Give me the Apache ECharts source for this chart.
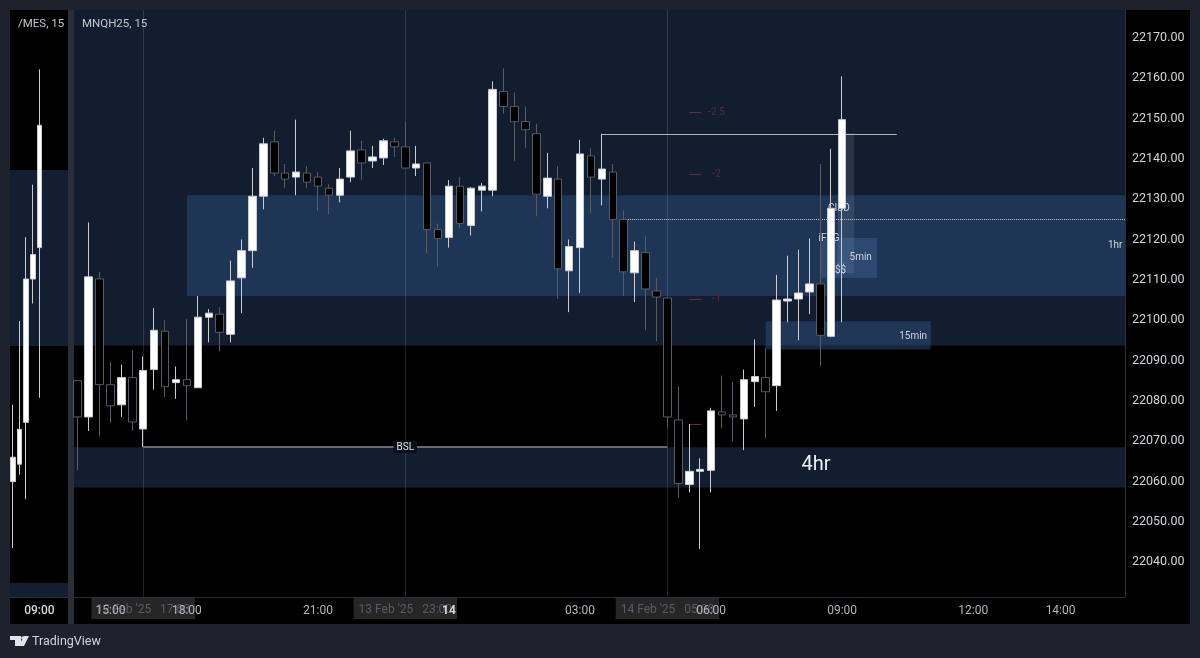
<!DOCTYPE html>
<html>
<head>
<meta charset="utf-8">
<style>
  html, body { margin: 0; padding: 0; background: #1e222d; }
  #chart { width: 1200px; height: 658px; }
</style>
</head>
<body>
<div id="chart"></div>
<script src="https://cdn.jsdelivr.net/npm/echarts@6/dist/echarts.min.js"></script>
<script>
// MES pane, rows are [open, close, low, high]
const mesCandles = [
  [6108.25, 6110, 6103.5, 6113.75],
  [6109.5, 6112, 6108.75, 6119.75],
  [6112.5, 6122.75, 6107, 6125.75],
  [6122.75, 6124.5, 6121, 6129.5],
  [6125, 6133.75, 6114.25, 6137.75],
];
const mesZones = [[6117.96, 6130.55], [6100, 6101]];
const mesTicks = [4];
const mesTickLabels = ["09:00"];

// MNQ pane, one row per 15 min bar, [open, close, low, high]
const mnqCandles = [
  [22084.5, 22075.5, 22062.25, 22084.5],
  [22075.5, 22110.25, 22072, 22123.75],
  [22109.75, 22083.5, 22070.75, 22111.5],
  [22083.5, 22078.25, 22074, 22089.25],
  [22078.5, 22085.25, 22075.5, 22088.5],
  [22085.25, 22074.25, 22072, 22092],
  [22072.5, 22087, 22068, 22090.5],
  [22087.25, 22097, 22082.25, 22102.5],
  [22096.75, 22083, 22080.5, 22099.5],
  [22084, 22084.75, 22080, 22088],
  [22084.75, 22083.25, 22074.75, 22099.75],
  [22082.75, 22100.25, 22082.75, 22105.5],
  [22100.25, 22101.25, 22094, 22102.25],
  [22101, 22096.5, 22091.75, 22102.75],
  [22096, 22109.25, 22094, 22114.25],
  [22110, 22116.75, 22101.25, 22119.5],
  [22116.75, 22130.25, 22112.5, 22137.25],
  [22130.25, 22143.25, 22127, 22144.75],
  [22143.75, 22136, 22135.25, 22146.5],
  [22136, 22134.5, 22132.25, 22138.25],
  [22135, 22136.25, 22130.5, 22149.25],
  [22136, 22133.75, 22132.25, 22137.75],
  [22135, 22132.75, 22126.75, 22136.25],
  [22132.25, 22130.5, 22125.75, 22133.25],
  [22130.5, 22134.5, 22128.75, 22137.25],
  [22135, 22141.5, 22133.75, 22146.5],
  [22141.75, 22138.5, 22134.25, 22144],
  [22139, 22140, 22137.25, 22142.75],
  [22139.75, 22144, 22138, 22144.5],
  [22143.75, 22142.5, 22140, 22144.75],
  [22142.5, 22137.25, 22137.25, 22148.75],
  [22137.25, 22138.25, 22135.25, 22142.75],
  [22138.5, 22122, 22116, 22138.5],
  [22122, 22119.75, 22112.75, 22123.5],
  [22120, 22132.75, 22117.5, 22134.25],
  [22132.75, 22123.5, 22122.25, 22135],
  [22123, 22132.25, 22120.5, 22132.5],
  [22131.75, 22132.75, 22126.5, 22133.5],
  [22131.75, 22156.75, 22130.25, 22158.75],
  [22156.25, 22152.5, 22150.75, 22162],
  [22152.5, 22148.75, 22139, 22156],
  [22148.75, 22146.75, 22142.25, 22152.5],
  [22145.75, 22130.75, 22125.25, 22148.25],
  [22130.25, 22134.75, 22127.25, 22141],
  [22134.5, 22112.25, 22104.75, 22137.75],
  [22111.75, 22117.75, 22101.5, 22119.5],
  [22117.5, 22140.75, 22106.25, 22144.25],
  [22140.25, 22135, 22126, 22142.25],
  [22134.5, 22137, 22128, 22145.75],
  [22136.25, 22124.5, 22115, 22138.25],
  [22124.5, 22111.5, 22105.5, 22126.75],
  [22111.25, 22116.75, 22104, 22119],
  [22116.25, 22107.25, 22097, 22120.25],
  [22106.75, 22105.25, 22094.25, 22110],
  [22105, 22075.5, 22072.75, 22105],
  [22074.75, 22059, 22055.5, 22083],
  [22058.75, 22062, 22056.75, 22073.75],
  [22062, 22062.5, 22042.75, 22065.25],
  [22062.25, 22077, 22056.75, 22077.75],
  [22076.75, 22076, 22072.75, 22085.75],
  [22076, 22075.5, 22069.5, 22084.25],
  [22075, 22084.75, 22067.25, 22087.25],
  [22084.25, 22085.5, 22078, 22094.75],
  [22085.25, 22081.75, 22070.25, 22092.5],
  [22083.25, 22104.5, 22077, 22110.75],
  [22104.25, 22104.75, 22099, 22115.5],
  [22104.75, 22106.25, 22094.5, 22117],
  [22106.5, 22108.5, 22101, 22119.75],
  [22108.5, 22095.75, 22088, 22138.25],
  [22095.5, 22127.25, 22095.25, 22142],
  [22127.25, 22149.25, 22099, 22160],
];

const priceTicks = [22040, 22050, 22060, 22070, 22080, 22090, 22100, 22110, 22120, 22130, 22140, 22150, 22160, 22170];
const timeTicks = [3, 10, 22, 34, 46, 58, 70, 82, 90];
const timeTickLabels = ["15:00", "18:00", "21:00", "14", "03:00", "06:00", "09:00", "12:00", "14:00"];
const sessionBars = [6, 30, 54];
const sessionLabels = ["12 Feb '25   17:00", "13 Feb '25   23:00", "14 Feb '25   05:00"];

// zones: [bar from, bar to, price low, price high]
const baseZone = [-0.34, 95.9, 22093.25, 22176.45];
const zone4hr = [-0.34, 95.9, 22058, 22068];
const zone1hr = [10, 95.9, 22105.5, 22130.5];
const zone15min = [63, 78.1, 22092.25, 22099.25];
const zone5min = [68, 73.2, 22110, 22119.9];
const zoneTall = [69.6, 71.1, 22111.2, 22145.9];

// levels: [bar from, bar to, price]
const highLevel = [48, 75, 22145.75];
const prevLevel = [-0.34, 6, 22094];
const bslLevel = [6, 54, 22068];
const midLevel = [50.4, 95.9, 22124.5];
const fibLevels = [22151, 22135.7, 22104.7, 22073.7];
const fibLabels = ["-2.5", "-2", "-1", ""];

// text notes: [bar, price, text]
const notesUnder = [[69.7, 22127.25, "CISD"], [68.8, 22119.75, "iFVG"], [69.6, 22111.75, "$$$"]];
const notesSmall = [[71.7, 22115, "5min"], [76.5, 22095.5, "15min"], [95, 22118, "1hr"]];
const notesBig = [[67.6, 22063.6, "4hr"]];
const notesBsl = [[30, 22068, "BSL"]];

const xMin = -0.339;
const xMax = 95.9;
const yMin = 22030.83;
const yMax = 22176.45;
const font = "Roboto";

function zoneArea(z, color) {
  return [
    { coord: [z[0], z[3]], itemStyle: { color: color } },
    { coord: [z[1], z[2]] },
  ];
}

function level(l, color, width, type) {
  return [
    { coord: [l[0], l[2]], lineStyle: { color: color, width: width, type: type || "solid" } },
    { coord: [l[1], l[2]] },
  ];
}

function noteSeries(rows, z, color, size) {
  return {
    type: "scatter",
    xAxisIndex: 1,
    yAxisIndex: 1,
    z: z,
    silent: true,
    symbolSize: 1,
    itemStyle: { color: "transparent", opacity: 1 },
    label: {
      show: true,
      position: "inside",
      color: color,
      fontFamily: font,
      fontSize: size,
      formatter: (p) => p.value[2],
    },
    data: rows,
  };
}

const fibSegments = fibLevels.map((v) => level([56, 57.1, v], "#5d2c40", 1));
const fibNotes = fibLevels.map((v, i) => [58.5, v, fibLabels[i]]);

const options = {
  animation: false,
  backgroundColor: "#1e222d",
  graphic: [
    { type: "rect", z: -5, shape: { x: 10, y: 10, width: 58, height: 614 }, style: { fill: "#000" } },
    { type: "rect", z: -5, shape: { x: 68, y: 10, width: 6, height: 614 }, style: { fill: "#2a2e39" } },
    { type: "rect", z: -5, shape: { x: 74, y: 10, width: 1116, height: 614 }, style: { fill: "#000" } },
    { type: "text", z: 30, x: 18, y: 18, style: { text: "/MES, 15", fill: "#c3c6ce", font: "11.5px Roboto" } },
    { type: "text", z: 30, x: 82, y: 18, style: { text: "MNQH25, 15", fill: "#c3c6ce", font: "11.5px Roboto" } },
    // TradingView logo
    { type: "polygon", z: 30, shape: { points: [[10, 636], [21, 636], [21, 646], [15, 646], [15, 640], [10, 640]] }, style: { fill: "#e0e3eb" } },
    { type: "circle", z: 30, shape: { cx: 23, cy: 638, r: 1.8 }, style: { fill: "#e0e3eb" } },
    { type: "polygon", z: 30, shape: { points: [[24, 636], [29, 636], [24, 646], [18.5, 646]] }, style: { fill: "#e0e3eb" } },
    { type: "text", z: 30, x: 32, y: 635, style: { text: "TradingView", fill: "#d1d4dc", font: "12.5px Roboto" } },
  ],
  grid: [
    { left: 10, top: 10, width: 58, height: 587, outerBoundsMode: "none" },
    { left: 74, top: 10, width: 1051, height: 587, outerBoundsMode: "none" },
  ],
  xAxis: [
    {
      type: "value",
      gridIndex: 0,
      min: -0.4545,
      max: 8.333,
      splitLine: { show: false },
      axisTick: { show: false },
      axisLine: { show: true, onZero: false, lineStyle: { color: "#2a2e39" } },
      axisLabel: {
        color: "#d1d4dc",
        fontFamily: font,
        fontSize: 12,
        fontWeight: 500,
        margin: 8,
        customValues: mesTicks,
        formatter: (v) => mesTickLabels[mesTicks.indexOf(v)] || "",
      },
    },
    {
      type: "value",
      gridIndex: 1,
      position: "bottom",
      min: xMin,
      max: xMax,
      z: 3,
      splitLine: { show: false },
      axisTick: { show: false },
      axisLine: { show: true, onZero: false, lineStyle: { color: "#2a2e39" } },
      axisLabel: {
        color: "#b2b5be",
        fontFamily: font,
        fontSize: 12,
        margin: 8,
        hideOverlap: false,
        customValues: timeTicks,
        formatter: (v) => {
          const s = timeTickLabels[timeTicks.indexOf(v)] || "";
          return s === "14" ? `{day|${s}}` : s;
        },
        rich: { day: { color: "#d1d4dc", fontWeight: "bold", fontFamily: font, fontSize: 12 } },
      },
    },
    {
      // date badges that sit under the time labels
      type: "value",
      gridIndex: 1,
      position: "bottom",
      min: xMin,
      max: xMax,
      z: 1,
      splitLine: { show: false },
      axisTick: { show: false },
      axisLine: { show: false },
      axisLabel: {
        color: "#585c64",
        fontFamily: font,
        fontSize: 12,
        margin: 1,
        backgroundColor: "#262626",
        padding: [6, 5, 3, 5],
        hideOverlap: false,
        customValues: sessionBars,
        formatter: (v) => sessionLabels[sessionBars.indexOf(v)] || "",
      },
    },
  ],
  yAxis: [
    {
      type: "value",
      gridIndex: 0,
      min: 6100,
      max: 6142,
      show: false,
    },
    {
      type: "value",
      gridIndex: 1,
      position: "right",
      min: yMin,
      max: yMax,
      splitLine: { show: false },
      axisTick: { show: false },
      axisLine: { show: true, onZero: false, lineStyle: { color: "#2a2e39" } },
      axisLabel: {
        margin: 7,
        padding: [4, 0, 0, 0],
        customValues: priceTicks,
        formatter: (v) => `{p|${v.toFixed(2)}}`,
        rich: { p: { color: "#d1d4dc", fontFamily: font, fontSize: 12.5 } },
      },
    },
  ],
  series: [
    {
      type: "line",
      xAxisIndex: 0,
      yAxisIndex: 0,
      data: [],
      silent: true,
      markArea: {
        silent: true,
        z: 1,
        data: mesZones.map((z) => zoneArea([-0.4545, 8.333, z[0], z[1]], "#131f30")),
      },
    },
    {
      type: "candlestick",
      xAxisIndex: 0,
      yAxisIndex: 0,
      z: 5,
      barWidth: 5,
      silent: true,
      encode: { x: 0, y: [1, 2, 3, 4] },
      itemStyle: { color: "#fff", color0: "#000", borderColor: "#c9ccd3", borderColor0: "#565b64", borderWidth: 1 },
      data: mesCandles.map((c, i) => [i, ...c]),
    },
    {
      type: "line",
      xAxisIndex: 1,
      yAxisIndex: 1,
      data: [],
      silent: true,
      markArea: {
        silent: true,
        z: 1,
        data: [
          zoneArea(baseZone, "#121e2f"),
          zoneArea(zone4hr, "#121e2f"),
          zoneArea(zone1hr, "#1f3556"),
          zoneArea(zone15min, "rgba(44,78,128,0.5)"),
          zoneArea(zone5min, "rgba(80,120,180,0.3)"),
          zoneArea(zoneTall, "rgba(120,135,160,0.22)"),
        ],
      },
      markLine: {
        silent: true,
        z: 3,
        symbol: "none",
        label: { show: false },
        data: [
          ...sessionBars.map((b) => [
            { coord: [b, yMin], lineStyle: { color: "rgba(255,255,255,0.13)", width: 1, type: "solid" } },
            { coord: [b, yMax] },
          ]),
          level(highLevel, "#b2b5be", 1),
          level(prevLevel, "#b2b5be", 1),
          level(bslLevel, "#878a94", 1.5),
          level(midLevel, "#c6c9d1", 1, "dotted"),
          ...fibSegments,
        ],
      },
    },
    noteSeries(notesUnder, 4, "#d1d4dc", 10),
    {
      type: "candlestick",
      xAxisIndex: 1,
      yAxisIndex: 1,
      z: 5,
      barWidth: 8,
      silent: true,
      encode: { x: 0, y: [1, 2, 3, 4] },
      itemStyle: { color: "#fff", color0: "#000", borderColor: "#c9ccd3", borderColor0: "#565b64", borderWidth: 1 },
      data: mnqCandles.map((c, i) => [i, ...c]),
    },
    noteSeries(fibNotes, 6, "#542a3c", 10),
    noteSeries(notesSmall, 6, "#d1d4dc", 10),
    noteSeries(notesBig, 6, "#eef0f4", 20),
    {
      ...noteSeries(notesBsl, 6, "#e0e3eb", 10),
      label: {
        show: true,
        position: "inside",
        color: "#e0e3eb",
        fontFamily: font,
        fontSize: 10,
        backgroundColor: "#0b1018",
        padding: [1, 3],
        formatter: (p) => p.value[2],
      },
    },
  ],
};

const myChart = echarts.init(document.getElementById("chart"));
myChart.setOption(options);
</script>
</body>
</html>
